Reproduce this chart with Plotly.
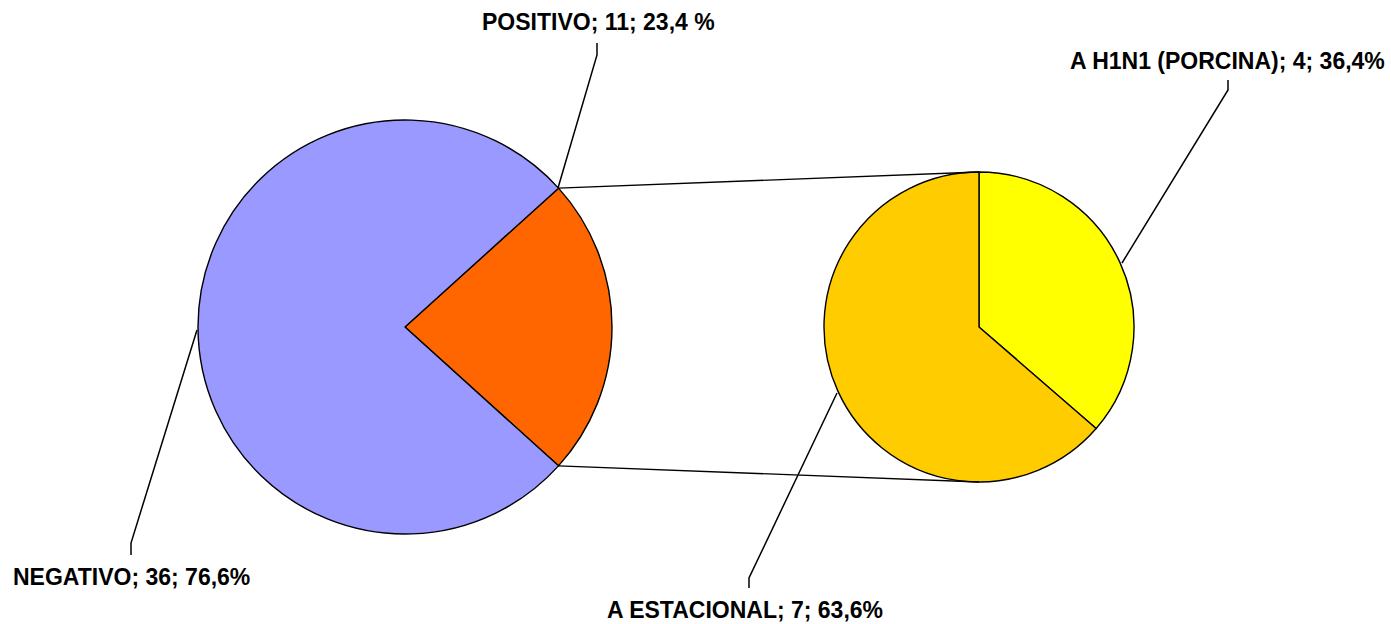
import math
import plotly.graph_objects as go

# ---- data ----
main_labels = ["POSITIVO", "NEGATIVO"]
main_values = [11, 36]
main_pct_text = ["23,4 %", "76,6%"]
main_colors = ["#FF6600", "#9999FF"]

sub_labels = ["A H1N1 (PORCINA)", "A ESTACIONAL"]
sub_values = [4, 7]
sub_pct_text = ["36,4%", "63,6%"]
sub_colors = ["#FFFF00", "#FFCC00"]

# ---- layout geometry (pixels) ----
W, H = 1391, 624
L_CX, L_CY, L_R = 405, 327, 207
R_CX, R_CY, R_R = 979, 327, 155
FONT = dict(family="Liberation Sans, Arial, sans-serif", size=23, color="black")


def px(x, y):
    return x / W, 1 - y / H


def domain(cx, cy, r):
    return dict(x=[(cx - r) / W, (cx + r) / W], y=[1 - (cy + r) / H, 1 - (cy - r) / H])


total = sum(main_values)
pos_span = 360 * main_values[0] / total
main_rotation = 90 - pos_span / 2

fig = go.Figure()
fig.add_trace(go.Pie(
    labels=main_labels, values=main_values, sort=False, direction="clockwise",
    rotation=main_rotation, domain=domain(L_CX, L_CY, L_R),
    marker=dict(colors=main_colors, line=dict(color="black", width=1.4)),
    textinfo="none", hoverinfo="label+value+percent", showlegend=False,
))
fig.add_trace(go.Pie(
    labels=sub_labels, values=sub_values, sort=False, direction="clockwise",
    rotation=0, domain=domain(R_CX, R_CY, R_R),
    marker=dict(colors=sub_colors, line=dict(color="black", width=1.4)),
    textinfo="none", hoverinfo="label+value+percent", showlegend=False,
))

shapes = []
# connector lines between pies
for ang, ty in [(main_rotation, R_CY - R_R), (main_rotation + pos_span, R_CY + R_R)]:
    a = math.radians(ang)
    x0, y0 = px(L_CX + L_R * math.sin(a), L_CY - L_R * math.cos(a))
    x1, y1 = px(R_CX, ty)
    shapes.append(dict(type="line", xref="paper", yref="paper", x0=x0, y0=y0, x1=x1, y1=y1,
                       line=dict(color="black", width=1.4)))

# leader lines (pixel polylines)
leaders = [
    [(597, 43), (597, 55), (558, 188)],
    [(131, 555), (131, 543), (197, 330)],
    [(1228, 80), (1228, 90), (1122, 263)],
    [(749, 588), (749, 578), (837, 393)],
]
for pts in leaders:
    path = ""
    for i, (x, y) in enumerate(pts):
        xp, yp = px(x, y)
        path += ("M" if i == 0 else " L") + f" {xp:.5f} {yp:.5f}"
    shapes.append(dict(type="path", xref="paper", yref="paper", path=path,
                       line=dict(color="black", width=1.5)))

# labels
label_pos = {
    "POSITIVO": (598, 22),
    "NEGATIVO": (131, 577),
    "A H1N1 (PORCINA)": (1227, 61),
    "A ESTACIONAL": (745, 610),
}
annotations = []
for labs, vals, pcts in [(main_labels, main_values, main_pct_text), (sub_labels, sub_values, sub_pct_text)]:
    for lab, v, p in zip(labs, vals, pcts):
        x, y = px(*label_pos[lab])
        annotations.append(dict(
            x=x, y=y, xref="paper", yref="paper", xanchor="center", yanchor="middle",
            text=f"<b>{lab}; {v}; {p}</b>", showarrow=False, font=FONT,
        ))

fig.update_layout(
    width=W, height=H, margin=dict(l=0, r=0, t=0, b=0),
    paper_bgcolor="white", plot_bgcolor="white",
    shapes=shapes, annotations=annotations, showlegend=False,
)

fig.write_html("out.html", config={"displayModeBar": False},
               post_script="document.body.style.margin='0';")
